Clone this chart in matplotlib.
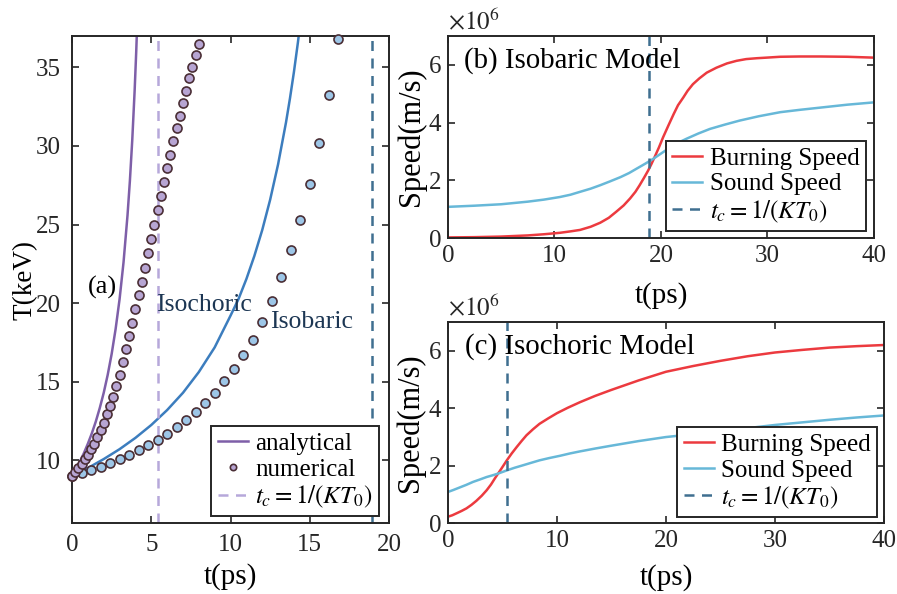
import matplotlib
matplotlib.use("Agg")
import matplotlib.pyplot as plt

plt.rcParams["font.family"] = ["Liberation Serif", "DejaVu Serif"]
plt.rcParams["mathtext.fontset"] = "stix"

# ---- panel (a): temperature vs time ----
# analytical curves
t_ana_iso = [0, 0.25, 0.5, 0.75, 1.0, 1.25, 1.5, 1.75, 2.0, 2.25, 2.5, 2.75, 3.0, 3.25,
             3.5, 3.65, 3.8, 3.95, 4.05, 4.15]
T_ana_iso = [9.0, 9.44, 9.92, 10.45, 11.05, 11.71, 12.46, 13.32, 14.29, 15.43, 16.76,
             18.35, 20.25, 22.6, 25.58, 27.77, 30.38, 33.52, 36.0, 38.88]
t_ana_bar = [0, 1, 2, 3, 4, 5, 6, 7, 8, 9, 10, 10.5, 11, 11.5, 12, 12.5, 13, 13.5, 13.75,
             14, 14.25, 14.5]
T_ana_bar = [9.0, 9.5, 10.07, 10.7, 11.42, 12.24, 13.19, 14.29, 15.61, 17.18, 19.2, 20.25,
             21.53, 22.99, 24.65, 26.58, 28.83, 31.5, 33.03, 34.71, 36.58, 38.66]

# numerical points
t_num_iso = [0.0, 0.2, 0.4, 0.6, 0.8, 1.0, 1.2, 1.4, 1.6, 1.8, 2.0, 2.2, 2.4, 2.6, 2.8, 3.0,
             3.2, 3.4, 3.6, 3.8, 4.0, 4.2, 4.4, 4.6, 4.8, 5.0, 5.2, 5.4, 5.6, 5.8, 6.0, 6.2,
             6.4, 6.6, 6.8, 7.0, 7.2, 7.4, 7.6, 7.8, 8.0]
T_num_iso = [9.0, 9.25, 9.5, 9.77, 10.05, 10.35, 10.68, 11.05, 11.45, 11.9, 12.38, 12.92,
             13.48, 14.05, 14.7, 15.45, 16.25, 17.05, 17.9, 18.75, 19.62, 20.5, 21.33,
             22.25, 23.17, 24.06, 24.99, 25.93, 26.82, 27.69, 28.6, 29.45, 30.3, 31.12,
             31.93, 32.71, 33.52, 34.3, 35.04, 35.79, 36.49]
t_num_bar = [0.0, 0.6, 1.2, 1.8, 2.4, 3.0, 3.6, 4.2, 4.8, 5.4, 6.0, 6.6, 7.2, 7.8, 8.4, 9.0,
             9.6, 10.2, 10.8, 11.4, 12.0, 12.6, 13.2, 13.8, 14.4, 15.0, 15.6, 16.2, 16.8]
T_num_bar = [9.0, 9.19, 9.36, 9.57, 9.85, 10.08, 10.36, 10.63, 10.95, 11.27, 11.69, 12.11,
             12.58, 13.07, 13.66, 14.3, 15.02, 15.8, 16.67, 17.67, 18.79, 20.12, 21.65,
             23.35, 25.3, 27.59, 30.19, 33.25, 36.81]

tc_iso = 5.4
tc_bar = 18.9

# ---- panel (b): isobaric model speeds (x1e6 m/s) ----
t_b_burn = [0, 2.5, 5, 7.5, 9, 10.5, 11.5, 12.4, 13.4, 14.3, 15.1, 15.8, 16.5, 17.1, 17.6,
            18.0, 18.4, 18.8, 19.1, 19.4, 19.8, 20.2, 20.7, 21.2, 21.6, 22.1, 22.5, 23.0,
            23.6, 24.3, 25.2, 26.2, 27.1, 28.0, 29.0, 29.9, 31.2, 33, 35, 37.5, 40]
v_b_burn = [0.02, 0.03, 0.05, 0.09, 0.13, 0.18, 0.23, 0.28, 0.39, 0.53, 0.7, 0.91, 1.13,
            1.37, 1.6, 1.83, 2.08, 2.34, 2.56, 2.8, 3.13, 3.49, 3.9, 4.3, 4.6, 4.87, 5.1,
            5.33, 5.53, 5.73, 5.9, 6.05, 6.14, 6.2, 6.23, 6.25, 6.28, 6.29, 6.29, 6.28,
            6.25]
t_b_sound = [0, 2.5, 5, 7.5, 9, 10.5, 11.5, 12.4, 13.4, 14.3, 15.2, 16.2, 17, 17.7, 18.5,
             19.3, 20.1, 20.9, 21.6, 22.4, 23.5, 24.6, 26, 27.4, 29.2, 31.2, 33, 35, 37.5,
             40]
v_b_sound = [1.08, 1.12, 1.17, 1.26, 1.33, 1.42, 1.5, 1.6, 1.71, 1.83, 1.96, 2.11, 2.25,
             2.4, 2.57, 2.75, 2.95, 3.15, 3.3, 3.44, 3.62, 3.78, 3.93, 4.07, 4.22, 4.36,
             4.44, 4.52, 4.62, 4.7]

# ---- panel (c): isochoric model speeds (x1e6 m/s) ----
t_c_burn = [0, 0.4, 0.8, 1.25, 1.7, 2.15, 2.6, 3.1, 3.55, 3.95, 4.3, 4.6, 4.9, 5.4, 5.85,
            6.3, 6.75, 7.2, 7.8, 8.4, 9.2, 10.0, 11, 12.1, 13.5, 15, 17.5, 20, 22.5, 25,
            27.5, 30, 32.5, 35, 37.5, 40]
v_c_burn = [0.23, 0.28, 0.35, 0.43, 0.52, 0.64, 0.78, 0.96, 1.15, 1.35, 1.56, 1.73, 1.9,
            2.19, 2.43, 2.65, 2.86, 3.06, 3.27, 3.46, 3.65, 3.83, 4.02, 4.21, 4.43, 4.64,
            4.97, 5.27, 5.47, 5.65, 5.81, 5.94, 6.03, 6.11, 6.16, 6.2]
t_c_sound = [0, 0.5, 1.1, 1.7, 2.3, 2.9, 3.55, 4.1, 4.6, 5.4, 6.1, 6.9, 7.6, 8.4, 9.3,
             10.3, 11.2, 12.1, 13.5, 15, 17.5, 20, 22.5, 25, 27.5, 30, 32.5, 35, 37.5, 40]
v_c_sound = [1.09, 1.16, 1.25, 1.34, 1.44, 1.52, 1.61, 1.67, 1.73, 1.84, 1.93, 2.02, 2.1,
             2.19, 2.27, 2.35, 2.43, 2.5, 2.6, 2.7, 2.86, 3.0, 3.1, 3.2, 3.31, 3.42, 3.51,
             3.6, 3.68, 3.75]

c_ana_iso = "#7E5FA8"
c_ana_bar = "#3C7DBE"
c_fill_iso = "#B7A5D3"
c_fill_bar = "#9DC6E7"
c_edge = "#4A2E35"
c_tc_iso = "#B6A8DA"
c_tc_bar = "#3F6F90"
c_burn = "#EC3A3F"
c_sound = "#67B8D8"
c_frame = "#262626"
c_note = "#1C3653"

fig = plt.figure(figsize=(8.97, 5.94), dpi=100)
ax_a = fig.add_axes([0.0803, 0.1195, 0.3534, 0.8199])
ax_b = fig.add_axes([0.4994, 0.5993, 0.4749, 0.3401])
ax_c = fig.add_axes([0.4994, 0.1190, 0.4861, 0.3389])


def style_axes(ax, pad):
    for s in ax.spines.values():
        s.set_linewidth(1.4)
        s.set_color(c_frame)
    ax.tick_params(direction="in", top=True, right=True, length=5, width=1.2,
                   labelsize=18, colors=c_frame, pad=pad)


def style_legend(leg):
    fr = leg.get_frame()
    fr.set_edgecolor(c_frame)
    fr.set_linewidth(1.4)
    fr.set_boxstyle("square", pad=0)


# panel (a)
ax_a.plot(t_ana_iso, T_ana_iso, color=c_ana_iso, lw=1.8, label="analytical")
ax_a.plot(t_ana_bar, T_ana_bar, color=c_ana_bar, lw=1.8)
ax_a.plot(t_num_bar, T_num_bar, "o", ms=6.5, mfc=c_fill_bar, mec=c_edge, mew=1.2,
          clip_on=False, zorder=4)
ax_a.plot(t_num_iso, T_num_iso, "o", ms=6.5, mfc=c_fill_iso, mec=c_edge, mew=1.2,
          clip_on=False, zorder=5, label="numerical")
ax_a.axvline(tc_iso, color=c_tc_iso, lw=1.8, ls=(0, (4, 3)), label=r"$t_c=1/(KT_0)$")
ax_a.axvline(tc_bar, color=c_tc_bar, lw=1.8, ls=(0, (4, 3)))
ax_a.set_xlim(0, 20)
ax_a.set_ylim(6, 37)
ax_a.set_xticks([0, 5, 10, 15, 20])
ax_a.set_yticks([10, 15, 20, 25, 30, 35])
style_axes(ax_a, 8)
ax_a.set_xlabel("t(ps)", fontsize=21)
ax_a.set_ylabel("T(keV)", fontsize=19.5)
ax_a.xaxis.set_label_coords(0.5, -0.083)
ax_a.yaxis.set_label_coords(-0.11, 0.5)
ax_a.text(1.0, 21.0, "(a)", fontsize=19, va="center")
ax_a.text(5.3, 19.85, "Isochoric", fontsize=18.5, va="center", color=c_note)
ax_a.text(12.5, 18.8, "Isobaric", fontsize=18.5, va="center", color=c_note)
leg = ax_a.legend(loc="lower right", bbox_to_anchor=(0.968, 0.014), borderaxespad=0,
                  fontsize=18, handlelength=1.2, handletextpad=0.3, labelspacing=0.12,
                  borderpad=0.25, markerscale=0.7, fancybox=False, framealpha=1)
style_legend(leg)

# panels (b) and (c)
panels = [
    (ax_b, t_b_burn, v_b_burn, t_b_sound, v_b_sound, tc_bar, "(b) Isobaric Model",
     (0.981, 0.035), -0.22),
    (ax_c, t_c_burn, v_c_burn, t_c_sound, v_c_sound, tc_iso, "(c) Isochoric Model",
     (0.984, 0.031), -0.2),
]
for ax, tb, vb, ts, vs, tc, title, anchor, xl in panels:
    ax.plot(tb, vb, color=c_burn, lw=1.8, label="Burning Speed")
    ax.plot(ts, vs, color=c_sound, lw=1.8, label="Sound Speed")
    ax.axvline(tc, color=c_tc_bar, lw=1.8, ls=(0, (4, 3)), label=r"$t_c=1/(KT_0)$")
    ax.set_xlim(0, 40)
    ax.set_ylim(0, 7)
    ax.set_xticks([0, 10, 20, 30, 40])
    ax.set_yticks([0, 2, 4, 6])
    style_axes(ax, 5)
    ax.set_xlabel("t(ps)", fontsize=21)
    ax.set_ylabel("Speed(m/s)", fontsize=22)
    ax.xaxis.set_label_coords(0.5, xl)
    ax.yaxis.set_label_coords(-0.052, 0.5)
    ax.text(0.0, 1.01, r"$\times10^{6}$", transform=ax.transAxes, fontsize=18,
            va="bottom", ha="left", color=c_frame)
    ax.text(0.038, 0.88, title, transform=ax.transAxes, fontsize=20.8, va="center")
    leg = ax.legend(loc="lower right", bbox_to_anchor=anchor, borderaxespad=0,
                    fontsize=18, handlelength=1.2, handletextpad=0.3, labelspacing=0.12,
                    borderpad=0.25, fancybox=False, framealpha=1)
    style_legend(leg)

fig.savefig("out.png", dpi=100)
